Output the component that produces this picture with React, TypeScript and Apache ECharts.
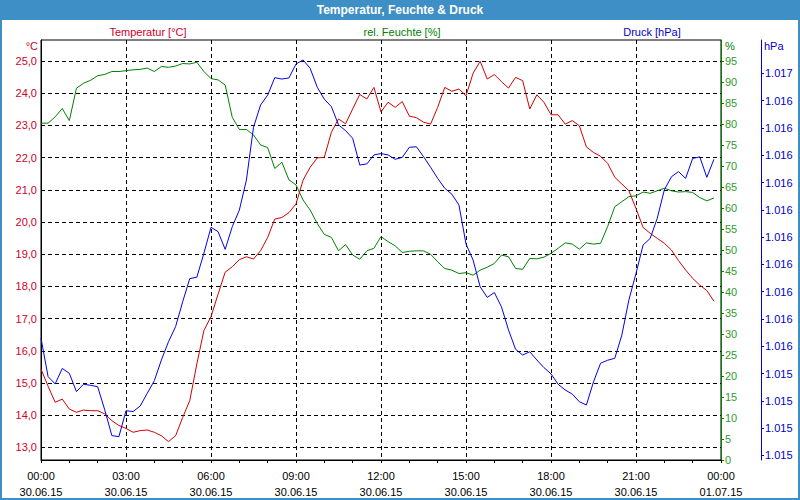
import React, { useEffect, useRef } from 'react';
import * as echarts from 'echarts';

const chartTitle = 'Temperatur, Feuchte & Druck';
const legendLabels = ['Temperatur [°C]', 'rel. Feuchte [%]', 'Druck [hPa]'];
const unitLabels = ['°C', '%', 'hPa'];

const xTickLabels = [
  '00:00\n30.06.15', '03:00\n30.06.15', '06:00\n30.06.15', '09:00\n30.06.15', '12:00\n30.06.15',
  '15:00\n30.06.15', '18:00\n30.06.15', '21:00\n30.06.15', '00:00\n01.07.15',
];

const tempTicks = [13, 14, 15, 16, 17, 18, 19, 20, 21, 22, 23, 24, 25];
const pressureTicks = [
  1015.15, 1015.25, 1015.35, 1015.45, 1015.55, 1015.65, 1015.75, 1015.85,
  1015.95, 1016.05, 1016.15, 1016.25, 1016.35, 1016.45, 1016.55,
];

const hours = [
  0, 0.25, 0.5, 0.75, 1, 1.25, 1.5, 1.75, 2, 2.25, 2.5, 2.75,
  3, 3.25, 3.5, 3.75, 4, 4.25, 4.5, 4.75, 5, 5.25, 5.5, 5.75,
  6, 6.25, 6.5, 6.75, 7, 7.25, 7.5, 7.75, 8, 8.25, 8.5, 8.75,
  9, 9.25, 9.5, 9.75, 10, 10.25, 10.5, 10.75, 11, 11.25, 11.5, 11.75,
  12, 12.25, 12.5, 12.75, 13, 13.25, 13.5, 13.75, 14, 14.25, 14.5, 14.75,
  15, 15.25, 15.5, 15.75, 16, 16.25, 16.5, 16.75, 17, 17.25, 17.5, 17.75,
  18, 18.25, 18.5, 18.75, 19, 19.25, 19.5, 19.75, 20, 20.25, 20.5, 20.75,
  21, 21.25, 21.5, 21.75, 22, 22.25, 22.5, 22.75, 23, 23.25, 23.5, 23.75,
];

const temperature = [
  15.43, 14.9, 14.4, 14.5, 14.19, 14.09, 14.16, 14.14, 14.14, 14.04, 13.83, 13.68,
  13.59, 13.47, 13.52, 13.54, 13.47, 13.36, 13.18, 13.36, 13.93, 14.45, 15.59, 16.63,
  17.06, 17.76, 18.44, 18.61, 18.83, 18.92, 18.85, 19.11, 19.52, 20.09, 20.14, 20.29,
  20.56, 21.3, 21.7, 21.99, 22.01, 22.79, 23.2, 23.05, 23.51, 23.96, 23.82, 24.18,
  23.42, 23.72, 23.56, 23.74, 23.29, 23.24, 23.1, 23.04, 23.56, 24.18, 24.06, 24.13,
  23.92, 24.62, 24.99, 24.44, 24.58, 24.36, 24.16, 24.49, 24.39, 23.51, 23.95, 23.72,
  23.33, 23.33, 23.04, 23.15, 22.99, 22.33, 22.16, 22.04, 21.82, 21.39, 21.18, 20.97,
  20.42, 19.83, 19.65, 19.49, 19.34, 19.13, 18.8, 18.51, 18.25, 18.04, 17.87, 17.54,
];

const humidity = [
  80.2, 80.2, 81.7, 83.7, 80.8, 88.5, 89.7, 90.4, 91.5, 91.8, 92.5, 92.5,
  92.7, 92.9, 93.0, 93.3, 92.5, 93.7, 93.5, 93.8, 94.4, 94.3, 94.7, 92.5,
  90.8, 90.5, 89.3, 81.6, 78.7, 78.7, 77.4, 75.0, 74.4, 69.4, 70.9, 66.7,
  65.5, 61.9, 59.5, 56.3, 53.7, 53.0, 49.8, 51.3, 48.8, 47.8, 49.8, 50.4,
  53.2, 52.0, 51.0, 49.4, 49.7, 49.8, 49.8, 49.0, 47.2, 45.6, 45.2, 44.4,
  44.6, 44.0, 45.2, 45.9, 46.8, 48.8, 48.4, 45.6, 45.4, 48.0, 47.9, 48.3,
  49.2, 50.4, 51.7, 51.4, 50.2, 51.7, 51.4, 51.6, 55.6, 60.3, 61.5, 62.7,
  62.9, 63.8, 63.5, 64.1, 64.7, 64.1, 63.8, 63.9, 63.7, 62.5, 61.7, 62.4,
];

const pressure = [
  1015.579, 1015.439, 1015.412, 1015.469, 1015.451, 1015.384, 1015.411, 1015.407, 1015.402, 1015.317, 1015.223, 1015.219,
  1015.314, 1015.311, 1015.331, 1015.378, 1015.424, 1015.5, 1015.567, 1015.622, 1015.713, 1015.798, 1015.803, 1015.891,
  1015.986, 1015.97, 1015.905, 1015.988, 1016.049, 1016.159, 1016.352, 1016.434, 1016.47, 1016.534, 1016.529, 1016.533,
  1016.584, 1016.599, 1016.568, 1016.499, 1016.455, 1016.428, 1016.361, 1016.34, 1016.312, 1016.214, 1016.218, 1016.251,
  1016.256, 1016.251, 1016.235, 1016.242, 1016.279, 1016.281, 1016.245, 1016.206, 1016.165, 1016.129, 1016.107, 1016.068,
  1015.925, 1015.866, 1015.768, 1015.729, 1015.747, 1015.695, 1015.61, 1015.539, 1015.518, 1015.53, 1015.5, 1015.472,
  1015.449, 1015.411, 1015.39, 1015.375, 1015.347, 1015.335, 1015.42, 1015.488, 1015.499, 1015.506, 1015.591, 1015.72,
  1015.817, 1015.921, 1015.945, 1016.019, 1016.123, 1016.171, 1016.19, 1016.165, 1016.238, 1016.244, 1016.169, 1016.235,
];

const RED = '#d00000';
const GREEN = '#008000';
const BLUE = '#0000e6';
const RED_TXT = '#d0002a';
const GREEN_TXT = '#2f9a2f';
const BLUE_TXT = '#0000cc';
const FRAME = '#3d8fc6';
const FONT = '"Liberation Sans", Arial, sans-serif';

export default function App() {
  const ref = useRef<HTMLDivElement>(null);
  useEffect(() => {
    const chart = echarts.init(ref.current as HTMLDivElement, null, { renderer: 'svg' });
    const textStyle = (text: string, x: number, y: number, fill: string, align: string, font = `11px ${FONT}`) => ({
      type: 'text',
      x,
      y,
      silent: true,
      style: {
        text,
        fill,
        font,
        align,
        textAlign: align,
        verticalAlign: 'middle',
        textVerticalAlign: 'middle',
      },
    });
    const option = {
      animation: false,
      backgroundColor: '#ffffff',
      textStyle: { fontFamily: FONT },
      grid: {
        left: 41,
        right: 79,
        top: 40,
        bottom: 40,
        show: true,
        borderColor: '#000',
        borderWidth: 1,
        backgroundColor: 'transparent',
      },
      graphic: [
        { type: 'rect', silent: true, shape: { x: 0, y: 0, width: 800, height: 20 }, style: { fill: FRAME } },
        { type: 'rect', silent: true, shape: { x: 1, y: 1, width: 798, height: 498 }, style: { fill: 'none', stroke: FRAME, lineWidth: 2 } },
        textStyle(chartTitle, 400, 10, '#ffffff', 'center', `bold 12px ${FONT}`),
        textStyle(legendLabels[0], 148, 32, RED_TXT, 'center'),
        textStyle(legendLabels[1], 402, 32, GREEN, 'center'),
        textStyle(legendLabels[2], 652, 32, BLUE_TXT, 'center'),
        textStyle(unitLabels[0], 38, 46, RED_TXT, 'right'),
        textStyle(unitLabels[1], 725, 46, GREEN, 'left'),
        textStyle(unitLabels[2], 764, 46, BLUE_TXT, 'left'),
      ],
      xAxis: {
        type: 'value',
        min: 0,
        max: 24,
        interval: 3,
        axisLine: { show: true, lineStyle: { color: '#000', width: 1 } },
        axisTick: { show: true, length: 3, lineStyle: { color: '#000' } },
        minorTick: { show: true, splitNumber: 3, length: 3, lineStyle: { color: '#000' } },
        axisLabel: {
          color: '#000',
          fontSize: 11,
          fontFamily: FONT,
          margin: 8,
          lineHeight: 16,
          formatter: (v: number) => xTickLabels[Math.round(v / 3)] ?? '',
        },
        splitLine: { show: true, lineStyle: { color: '#000', type: [4, 3], width: 1 } },
      },
      yAxis: [
        {
          type: 'value',
          position: 'left',
          min: 12.6087,
          max: 25.6522,
          axisLine: { show: true, lineStyle: { color: '#000', width: 1 } },
          axisTick: { show: false, customValues: tempTicks },
          axisLabel: {
            customValues: tempTicks,
            color: RED_TXT,
            fontSize: 11,
            fontFamily: FONT,
            margin: 4,
            formatter: (v: number) => v.toFixed(1).replace('.', ','),
          },
          splitLine: { show: true, lineStyle: { color: '#000', type: [4, 3], width: 1 } },
        },
        {
          type: 'value',
          position: 'right',
          offset: 0,
          min: 0,
          max: 100,
          interval: 5,
          axisLine: { show: true, lineStyle: { color: GREEN, width: 1 } },
          axisTick: { show: true, length: 3, lineStyle: { color: GREEN } },
          axisLabel: {
            color: GREEN_TXT,
            fontSize: 11,
            fontFamily: FONT,
            margin: 4,
            showMaxLabel: false,
          },
          splitLine: { show: false },
        },
        {
          type: 'value',
          position: 'right',
          offset: 40,
          min: 1015.1335,
          max: 1016.672,
          axisLine: { show: true, lineStyle: { color: BLUE_TXT, width: 1 } },
          axisTick: { show: true, length: 3, customValues: pressureTicks, lineStyle: { color: BLUE_TXT } },
          axisLabel: {
            customValues: pressureTicks,
            color: BLUE_TXT,
            fontSize: 11,
            fontFamily: FONT,
            margin: 4,
            formatter: (v: number) => (Math.round(v + 1e-6) / 1000).toFixed(3),
          },
          splitLine: { show: false },
        },
      ],
      series: [
        {
          name: legendLabels[1],
          type: 'line',
          yAxisIndex: 1,
          showSymbol: false,
          symbol: 'none',
          lineStyle: { color: GREEN, width: 1 },
          data: hours.map((h, i) => [h, humidity[i]]),
        },
        {
          name: legendLabels[0],
          type: 'line',
          yAxisIndex: 0,
          showSymbol: false,
          symbol: 'none',
          lineStyle: { color: RED, width: 1 },
          data: hours.map((h, i) => [h, temperature[i]]),
        },
        {
          name: legendLabels[2],
          type: 'line',
          yAxisIndex: 2,
          showSymbol: false,
          symbol: 'none',
          lineStyle: { color: BLUE, width: 1 },
          data: hours.map((h, i) => [h, pressure[i]]),
        },
      ],
    };
    chart.setOption(option as any);
    return () => chart.dispose();
  }, []);
  return <div ref={ref} style={{ position: 'absolute', left: 0, top: 0, width: 800, height: 500 }} />;
}
